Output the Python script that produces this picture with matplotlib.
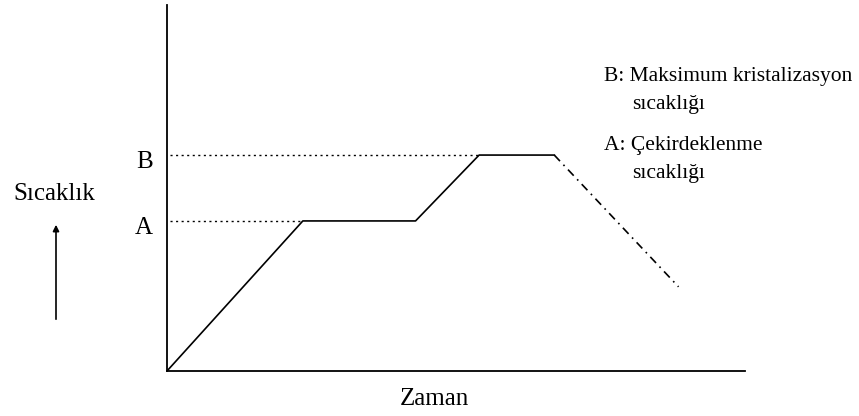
import matplotlib
matplotlib.use("Agg")
import matplotlib.pyplot as plt

# Heating path (time, temperature), arbitrary units
time_heat = [0, 23.5, 43, 54, 67]
temp_heat = [0, 41, 41, 59, 59]

# Cooling part (dash-dot)
time_cool = [67, 88.5]
temp_cool = [59, 23]

# reference levels
levels = {"A": 41, "B": 59}
level_ends = {"A": 23.5, "B": 54}

legend_lines = [
    ("B: Maksimum kristalizasyon", "sıcaklığı"),
    ("A: Çekirdeklenme", "sıcaklığı"),
]

plt.rcParams["font.family"] = ["Liberation Serif", "DejaVu Serif"]

W, H = 859, 416
fig = plt.figure(figsize=(W / 100, H / 100), dpi=100)
# axes placed in pixel coordinates: left 167, right 745, top 5, bottom 371
ax = fig.add_axes([167 / W, 1 - 371 / H, (745 - 167) / W, (371 - 5) / H])
ax.set_xlim(0, 100)
ax.set_ylim(0, 100)

ax.plot(time_heat, temp_heat, color="black", linewidth=1.2)
ax.plot(time_cool, temp_cool, color="black", linewidth=1.2,
        linestyle=(0, (5, 3, 1, 3)))

for name, y in levels.items():
    ax.plot([0.5, level_ends[name]], [y, y], color="black",
            linewidth=1.0, linestyle=(0, (1.5, 2.5)))

ax.spines["top"].set_visible(False)
ax.spines["right"].set_visible(False)
ax.spines["left"].set_linewidth(1.3)
ax.spines["bottom"].set_linewidth(1.3)
ax.set_xticks([])
ax.set_yticks([])

# level letters, placed left of the axis
fig.text(153 / W, 1 - 168 / H, "B", ha="right", va="baseline", fontsize=18)
fig.text(153 / W, 1 - 234 / H, "A", ha="right", va="baseline", fontsize=18)

# axis labels
fig.text(54 / W, 1 - 200 / H, "Sıcaklık", ha="center", va="baseline", fontsize=18)
fig.text(434 / W, 1 - 405 / H, "Zaman", ha="center", va="baseline", fontsize=18)
ax.annotate("", xy=(56 / W, 1 - 222 / H), xytext=(56 / W, 1 - 322 / H),
            xycoords="figure fraction", textcoords="figure fraction",
            arrowprops=dict(arrowstyle="-|>", color="black", lw=1.2,
                            mutation_scale=9))

# legend text
y0 = 81
for first, second in legend_lines:
    fig.text(604 / W, 1 - y0 / H, first, ha="left", va="baseline", fontsize=15.5)
    fig.text(632 / W, 1 - (y0 + 28) / H, second, ha="left", va="baseline", fontsize=15.5)
    y0 += 69

fig.savefig("out.png", dpi=100, facecolor="white")
